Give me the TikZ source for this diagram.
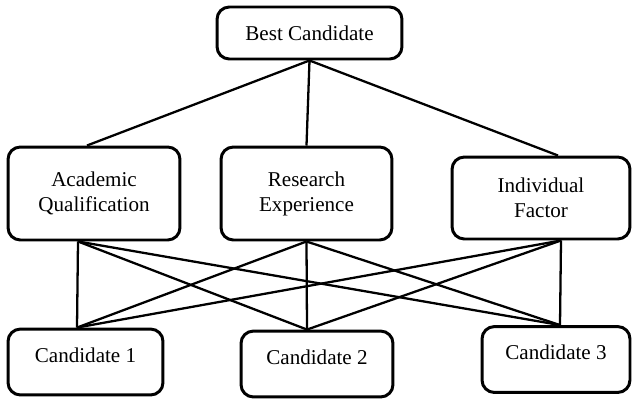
\documentclass[tikz,border=0pt]{standalone}
\usepackage{fontspec}
\setmainfont{Liberation Serif}
\begin{document}
\begin{tikzpicture}[x=0.02cm,y=-0.02cm,
  box/.style={draw,line width=1.7pt,rounded corners=7pt,align=center,
    font=\fontsize{12}{14.2}\selectfont,inner sep=0pt},
  cand/.style={box,text height=19pt,text depth=18.5pt},
  link/.style={line width=1.3pt}]
\useasboundingbox (0,0) rectangle (632,399);
\node[box,minimum width=3.7cm,minimum height=1.04cm] (best) at (309.5,33) {Best Candidate};
\node[box,minimum width=3.44cm,minimum height=1.86cm] (aq) at (94,193.5) {Academic\\Qualification};
\node[box,minimum width=3.42cm,minimum height=1.86cm] (re) at (306.5,193.5) {Research\\Experience};
\node[box,minimum width=3.56cm,minimum height=1.64cm] (inf) at (541,198) {Individual\\Factor};
\node[cand,minimum width=3.1cm] (c1) at (85.5,362) {Candidate 1};
\node[cand,minimum width=3.04cm] (c2) at (317,364) {Candidate 2};
\node[cand,minimum width=2.96cm] (c3) at (556,359.5) {Candidate 3};
% where the lines meet the boxes
\coordinate (aqt) at ([xshift=-0.14cm]aq.north);
\coordinate (inft) at ([xshift=0.34cm]inf.north);
\coordinate (aqb) at ([xshift=-0.32cm]aq.south);
\coordinate (reb) at (re.south);
\coordinate (infb) at ([xshift=0.4cm]inf.south);
\coordinate (c1t) at ([xshift=-0.17cm]c1.north);
\coordinate (c2t) at ([xshift=-0.2cm]c2.north);
\coordinate (c3t) at ([xshift=0.08cm]c3.north);
\draw[link] (best.south)--(aqt) (best.south)--(re.north) (best.south)--(inft);
\foreach \f in {aqb,reb,infb}
  \foreach \c in {c1t,c2t,c3t}
    \draw[link] (\f)--(\c);
\end{tikzpicture}
\end{document}
